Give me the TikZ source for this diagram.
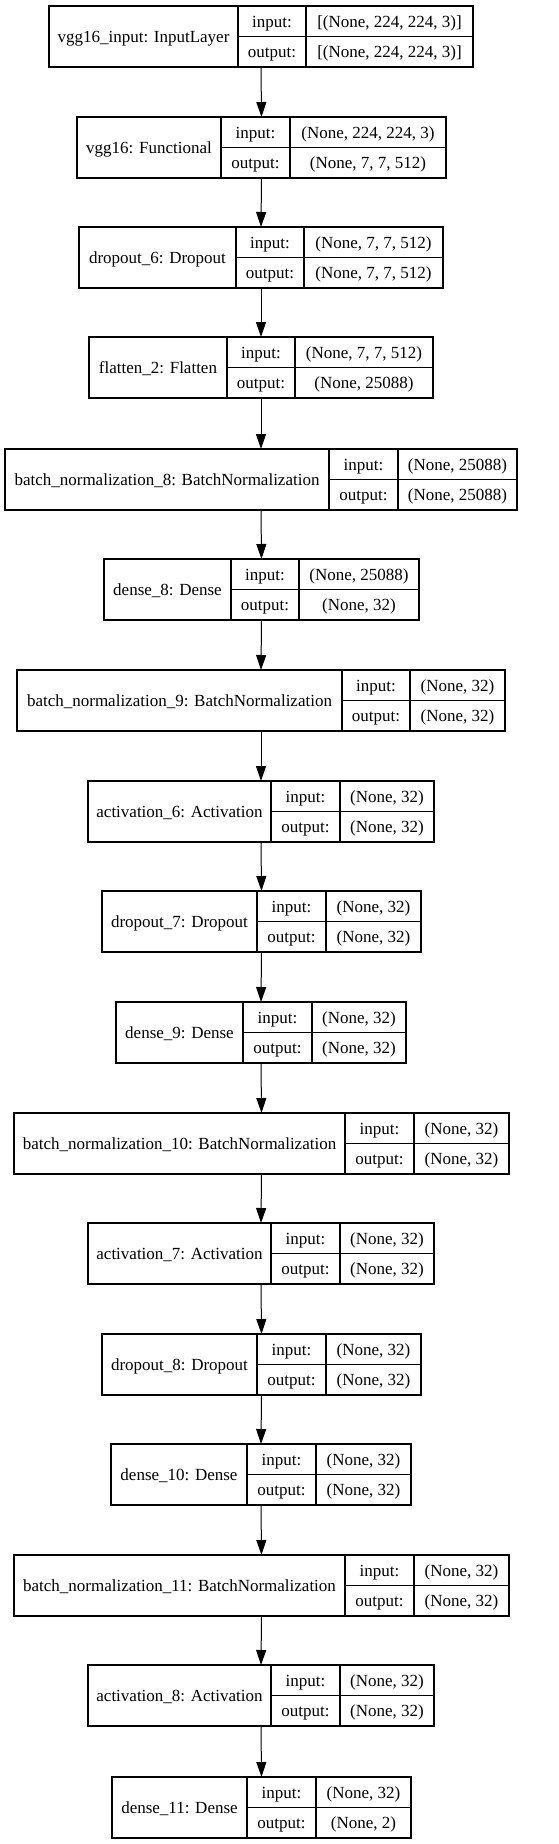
\documentclass[tikz,border=0pt]{standalone}
\usepackage{fontspec}
\setmainfont{Liberation Serif}
\usetikzlibrary{arrows.meta}
\tikzset{
  layerbox/.style={draw=black, line width=1.3pt, inner sep=0pt, outer sep=0pt, anchor=north west, minimum height=61pt},
  sepline/.style={draw=black, line width=1.3pt},
  txt/.style={anchor=base, inner sep=0pt, font=\fontsize{17}{20}\selectfont},
  flow/.style={draw=black, line width=1pt, -{Triangle[length=15pt,width=10pt]}}
}
\newcommand\layer[9]{%
  \node[layerbox, minimum width={#6pt-#3pt}] (#1) at (#3,#2) {};
  \draw[sepline] (#4,#2) -- (#4,{#2+61}) (#5,#2) -- (#5,{#2+61}) (#4,{#2+30.5}) -- (#6,{#2+30.5});
  \node[txt] (#1-name) at ({(#3+#4)/2},{#2+36.5}) {#7};
  \node[txt] (#1-il) at ({(#4+#5)/2},{#2+21.25}) {input:};
  \node[txt] (#1-iv) at ({(#5+#6)/2},{#2+21.25}) {#8};
  \node[txt] (#1-ol) at ({(#4+#5)/2},{#2+51.75}) {output:};
  \node[txt] (#1-ov) at ({(#5+#6)/2},{#2+51.75}) {#9};
}
\begin{document}
\begin{tikzpicture}[x=1pt,y=-1pt]
\fill[white] (0,0) rectangle (559,1844);
\useasboundingbox (0,0) rectangle (559,1844);
\layer{l1}{6}{49}{238}{306}{473}{vgg16\_input: InputLayer}{[(None, 224, 224, 3)]}{[(None, 224, 224, 3)]}
\layer{l2}{117}{77}{221}{290}{446}{vgg16: Functional}{(None, 224, 224, 3)}{(None, 7, 7, 512)}
\layer{l3}{227}{79}{236}{304}{443}{dropout\_6: Dropout}{(None, 7, 7, 512)}{(None, 7, 7, 512)}
\layer{l4}{337}{89}{227}{295}{433}{flatten\_2: Flatten}{(None, 7, 7, 512)}{(None, 25088)}
\layer{l5}{449}{5}{329}{398}{517}{batch\_normalization\_8: BatchNormalization}{(None, 25088)}{(None, 25088)}
\layer{l6}{559}{104}{231}{299}{419}{dense\_8: Dense}{(None, 25088)}{(None, 32)}
\layer{l7}{670}{17}{342}{410}{505}{batch\_normalization\_9: BatchNormalization}{(None, 32)}{(None, 32)}
\layer{l8}{781}{88}{271}{340}{434}{activation\_6: Activation}{(None, 32)}{(None, 32)}
\layer{l9}{891}{102}{257}{326}{421}{dropout\_7: Dropout}{(None, 32)}{(None, 32)}
\layer{l10}{1002}{116}{243}{312}{406}{dense\_9: Dense}{(None, 32)}{(None, 32)}
\layer{l11}{1113}{14}{345}{414}{509}{batch\_normalization\_10: BatchNormalization}{(None, 32)}{(None, 32)}
\layer{l12}{1223}{88}{271}{340}{434}{activation\_7: Activation}{(None, 32)}{(None, 32)}
\layer{l13}{1334}{102}{257}{326}{421}{dropout\_8: Dropout}{(None, 32)}{(None, 32)}
\layer{l14}{1444}{111}{247}{316}{411}{dense\_10: Dense}{(None, 32)}{(None, 32)}
\layer{l15}{1555}{14}{345}{414}{509}{batch\_normalization\_11: BatchNormalization}{(None, 32)}{(None, 32)}
\layer{l16}{1665}{88}{271}{340}{434}{activation\_8: Activation}{(None, 32)}{(None, 32)}
\layer{l17}{1777}{112}{247}{316}{411}{dense\_11: Dense}{(None, 32)}{(None, 2)}
\foreach \a/\b in {l1/l2,l2/l3,l3/l4,l4/l5,l5/l6,l6/l7,l7/l8,l8/l9,l9/l10,l10/l11,l11/l12,l12/l13,l13/l14,l14/l15,l15/l16,l16/l17}
  \draw[flow] (\a.south) -- (\b.north);
\end{tikzpicture}
\end{document}
